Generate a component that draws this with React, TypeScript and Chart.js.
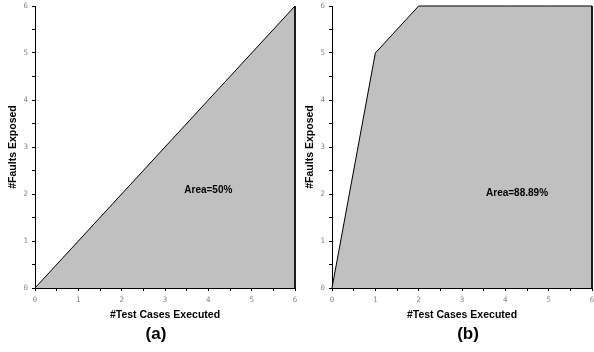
import React, { useEffect, useRef } from "react";
import { Chart, registerables } from "chart.js";

Chart.register(...registerables);

// Panel (a)
const xA = [0, 1, 2, 3, 4, 5, 6];
const yA = [0, 1, 2, 3, 4, 5, 6];
const areaA = "Area=50%";
const captionA = "(a)";

// Panel (b)
const xB = [0, 1, 2, 3, 4, 5, 6];
const yB = [0, 5, 6, 6, 6, 6, 6];
const areaB = "Area=88.89%";
const captionB = "(b)";

// Shared
const xTitle = "#Test Cases Executed";
const yTitle = "#Faults Exposed";
const axisMin = 0;
const axisMax = 6;
const tickStep = 0.5;
// annotation anchor in data units [x, y]
const areaPosA = [4.0, 2.08];
const areaPosB = [4.27, 2.02];

type PanelProps = {
  xs: number[];
  ys: number[];
  area: string;
  areaPos: number[];
  caption: string;
  captionShift: number;
};

function Panel({ xs, ys, area, areaPos, caption, captionShift }: PanelProps) {
  const ref = useRef<HTMLCanvasElement | null>(null);
  useEffect(() => {
    if (!ref.current) return;
    const pts = xs.map((x, i) => ({ x, y: ys[i] }));
    // close polygon down to baseline at last x
    pts.push({ x: xs[xs.length - 1], y: axisMin });

    const textPlugin = {
      id: "texts",
      afterDraw(chart: any) {
        const ctx = chart.ctx;
        const ca = chart.chartArea;
        const sx = chart.scales.x;
        const sy = chart.scales.y;
        ctx.save();
        ctx.fillStyle = "#000";
        ctx.textAlign = "center";
        ctx.textBaseline = "middle";
        // area label
        ctx.font = "bold 10px 'Liberation Sans', Arial, sans-serif";
        ctx.fillText(area, sx.getPixelForValue(areaPos[0]), sy.getPixelForValue(areaPos[1]));
        // x title
        ctx.font = "bold 10.5px 'Liberation Sans', Arial, sans-serif";
        ctx.fillText(xTitle, (ca.left + ca.right) / 2, 315);
        // caption
        ctx.font = "bold 17px 'Liberation Sans', Arial, sans-serif";
        ctx.fillText(caption, (ca.left + ca.right) / 2 + captionShift, 334);
        // y title
        ctx.translate(ca.left - 21.5, (ca.top + ca.bottom) / 2);
        ctx.rotate(-Math.PI / 2);
        ctx.font = "bold 10.5px 'Liberation Sans', Arial, sans-serif";
        ctx.fillText(yTitle, 0, 0);
        ctx.restore();
      },
    };

    const tickCb = (v: any) => (Number(v) % 1 === 0 ? String(v) : "");
    const axisCommon = {
      type: "linear" as const,
      min: axisMin,
      max: axisMax,
      grid: {
        drawOnChartArea: false,
        drawTicks: true,
        tickLength: 3,
        color: "#000",
      },
      border: { display: true, color: "#000", width: 1 },
    };

    const chart = new Chart(ref.current, {
      type: "line",
      data: {
        datasets: [
          {
            data: pts,
            borderColor: "#000",
            borderWidth: 1,
            backgroundColor: "#c0c0c0",
            fill: "origin",
            pointRadius: 0,
            tension: 0,
            clip: false as any,
          },
        ],
      },
      options: {
        animation: false,
        responsive: false,
        maintainAspectRatio: false,
        layout: { padding: { left: 0, top: 6, right: 2, bottom: 0 } },
        plugins: { legend: { display: false }, tooltip: { enabled: false } },
        scales: {
          x: {
            ...axisCommon,
            ticks: {
              stepSize: tickStep,
              autoSkip: false,
              maxRotation: 0,
              callback: tickCb,
              color: "#888",
              font: { family: "'DejaVu Sans Mono', monospace", size: 7.5 },
              padding: 5,
            },
            afterFit: (s: any) => {
              s.height = 64;
              s.paddingLeft = 0;
              s.paddingRight = 0;
            },
          },
          y: {
            ...axisCommon,
            ticks: {
              stepSize: tickStep,
              autoSkip: false,
              callback: tickCb,
              color: "#888",
              font: { family: "'DejaVu Sans Mono', monospace", size: 7.5 },
              padding: 4,
            },
            afterFit: (s: any) => {
              s.width = 35;
              s.paddingTop = 0;
              s.paddingBottom = 0;
            },
          },
        },
      },
      plugins: [textPlugin],
    } as any);
    return () => chart.destroy();
  }, []);
  return <canvas ref={ref} width={297} height={352} style={{ display: "block", width: 297, height: 352 }} />;
}

export default function App() {
  return (
    <div style={{ position: "absolute", left: 0, top: 0, width: 594, height: 352, display: "flex", background: "#fff" }}>
      <Panel xs={xA} ys={yA} area={areaA} areaPos={areaPosA} caption={captionA} captionShift={-9} />
      <Panel xs={xB} ys={yB} area={areaB} areaPos={areaPosB} caption={captionB} captionShift={6} />
    </div>
  );
}
